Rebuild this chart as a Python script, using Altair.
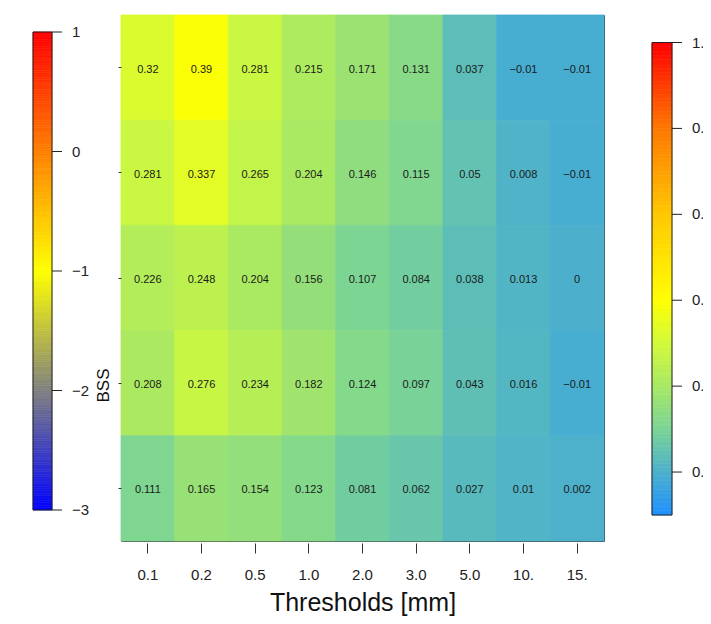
import altair as alt
import numpy as np
import pandas as pd

# ---------------- data ----------------
thresholds = ["0.1", "0.2", "0.5", "1.0", "2.0", "3.0", "5.0", "10.", "15."]
rows = ["r1", "r2", "r3", "r4", "r5"]  # top to bottom
row1 = [0.32, 0.39, 0.281, 0.215, 0.171, 0.131, 0.037, -0.01, -0.01]
row2 = [0.281, 0.337, 0.265, 0.204, 0.146, 0.115, 0.05, 0.008, -0.01]
row3 = [0.226, 0.248, 0.204, 0.156, 0.107, 0.084, 0.038, 0.013, 0]
row4 = [0.208, 0.276, 0.234, 0.182, 0.124, 0.097, 0.043, 0.016, -0.01]
row5 = [0.111, 0.165, 0.154, 0.123, 0.081, 0.062, 0.027, 0.01, 0.002]

right_ticks = [0.0, 0.2, 0.4, 0.6, 0.8, 1.0]
right_labels = ["0.0", "0.2", "0.4", "0.6", "0.8", "1.0"]
right_range = [-0.1, 1.0]
left_ticks = [-3, -2, -1, 0, 1]
left_labels = ["\u22123", "\u22122", "\u22121", "0", "1"]
left_range = [-3, 1]

# colour palette of the BSS heat map (stops)
pal_stops = [-0.1, 0.0, 0.1, 0.2, 0.3, 0.4, 0.6, 0.8, 1.0]
pal_colors = ["#1e90ff", "#4cb0cc", "#7ad496", "#a8e864", "#d2fa3a", "#ffff00",
              "#ffc800", "#ff7800", "#ff0000"]

# ---------------- tables ----------------
recs = []
for r, vals in zip(rows, [row1, row2, row3, row4, row5]):
    for t, v in zip(thresholds, vals):
        recs.append({"thr": t, "row": r, "v": v, "lab": f"{v:g}".replace("-", "\u2212")})
df = pd.DataFrame(recs)


def bar_table(lo, hi, n):
    e = np.linspace(lo, hi, n + 1)
    return pd.DataFrame({"lo": e[:-1], "hi": e[1:], "mid": (e[:-1] + e[1:]) / 2})


rdf = bar_table(right_range[0], right_range[1], 110)
ldf = bar_table(left_range[0], left_range[1], 200)
rticks = pd.DataFrame({"t": right_ticks, "lab": right_labels})
lticks = pd.DataFrame({"t": left_ticks, "lab": left_labels})
rframe = pd.DataFrame({"lo": [right_range[0]], "hi": [right_range[1]]})
lframe = pd.DataFrame({"lo": [left_range[0]], "hi": [left_range[1]]})

FONT = "Liberation Sans"
heat_color = alt.Scale(domain=pal_stops, range=pal_colors, interpolate="rgb")
left_color = alt.Scale(domain=[-3, -1, 1], range=["#0000ff", "#ffff00", "#ff0000"], interpolate="rgb")

# ---------------- heatmap ----------------
xenc = alt.X("thr:N", sort=thresholds, scale=alt.Scale(paddingInner=0, paddingOuter=0),
             axis=alt.Axis(title="Thresholds [mm]", labelAngle=0, tickSize=10, offset=2,
                           labelPadding=14, labelFontSize=15, titleFontSize=25, titleY=67,
                           titleBaseline="alphabetic", domain=False, tickColor="#333",
                           labelColor="#222", titleColor="#111", labelFont=FONT, titleFont=FONT,
                           titleFontWeight="normal"))
yenc = alt.Y("row:N", sort=rows, scale=alt.Scale(paddingInner=0, paddingOuter=0),
             axis=alt.Axis(title="BSS", labels=False, tickSize=3, domain=False, tickColor="#333",
                           titleFontSize=17, titleX=-9, titleY=370, titleFont=FONT,
                           titleFontWeight="normal", titleColor="#111", titleAlign="center",
                           titleBaseline="bottom"))

heat = alt.Chart(df).mark_rect(strokeWidth=0.8).encode(
    x=xenc, y=yenc,
    color=alt.Color("v:Q", scale=heat_color, legend=None),
    stroke=alt.Stroke("v:Q", scale=heat_color, legend=None),
)
text = alt.Chart(df).mark_text(fontSize=11, color="#1a1a1a", font=FONT, dy=2).encode(
    x=alt.X("thr:N", sort=thresholds), y=alt.Y("row:N", sort=rows), text="lab:N"
)
heat_group = alt.layer(heat, text)


# ---------------- colour bars ----------------
def colorbar(bdf, fdf, tdf, cscale, ydom, x0, x1):
    ysc = alt.Scale(domain=ydom, nice=False, zero=False)
    grad = alt.Chart(bdf).mark_rect(strokeWidth=0.6).encode(
        x=alt.value(x0), x2=alt.value(x1),
        y=alt.Y("lo:Q", scale=ysc, axis=None), y2="hi:Q",
        color=alt.Color("mid:Q", scale=cscale, legend=None),
        stroke=alt.Stroke("mid:Q", scale=cscale, legend=None),
    )
    frame = alt.Chart(fdf).mark_rect(fillOpacity=0, stroke="#222", strokeWidth=1).encode(
        x=alt.value(x0), x2=alt.value(x1),
        y=alt.Y("lo:Q", scale=ysc, axis=None), y2="hi:Q",
    )
    ticks = alt.Chart(tdf).mark_rule(color="#222", strokeWidth=1).encode(
        x=alt.value(x1), x2=alt.value(x1 + 10),
        y=alt.Y("t:Q", scale=ysc, axis=None),
    )
    labs = alt.Chart(tdf).mark_text(align="left", baseline="middle", fontSize=15,
                                    color="#222", font=FONT).encode(
        x=alt.value(x1 + 20),
        y=alt.Y("t:Q", scale=ysc, axis=None),
        text="lab:N",
    )
    return alt.layer(grad, frame, ticks, labs)


# pixel mapping of bar ends within the 526px tall plot area
def ydomain(vtop, vbot, ptop, pbot, h=526):
    k = (pbot - ptop) / (vtop - vbot)
    return [vbot - (h - pbot) / k, vtop + ptop / k]


right_group = colorbar(rdf, rframe, rticks, heat_color, ydomain(1.0, -0.1, 27.5, 500), 531, 551)
left_group = colorbar(ldf, lframe, lticks, left_color, ydomain(1, -3, 17, 495), -88, -69)

chart = alt.layer(heat_group, right_group, left_group).resolve_scale(
    y="independent", color="independent", stroke="independent"
).properties(
    width=483, height=526,
    autosize=alt.AutoSizeParams(type="none"),
    padding={"left": 113, "top": 7, "right": 99, "bottom": 75},
).configure_view(stroke="#444", strokeWidth=1)

chart.save("out.html", embed_options={"renderer": "svg", "actions": False})
